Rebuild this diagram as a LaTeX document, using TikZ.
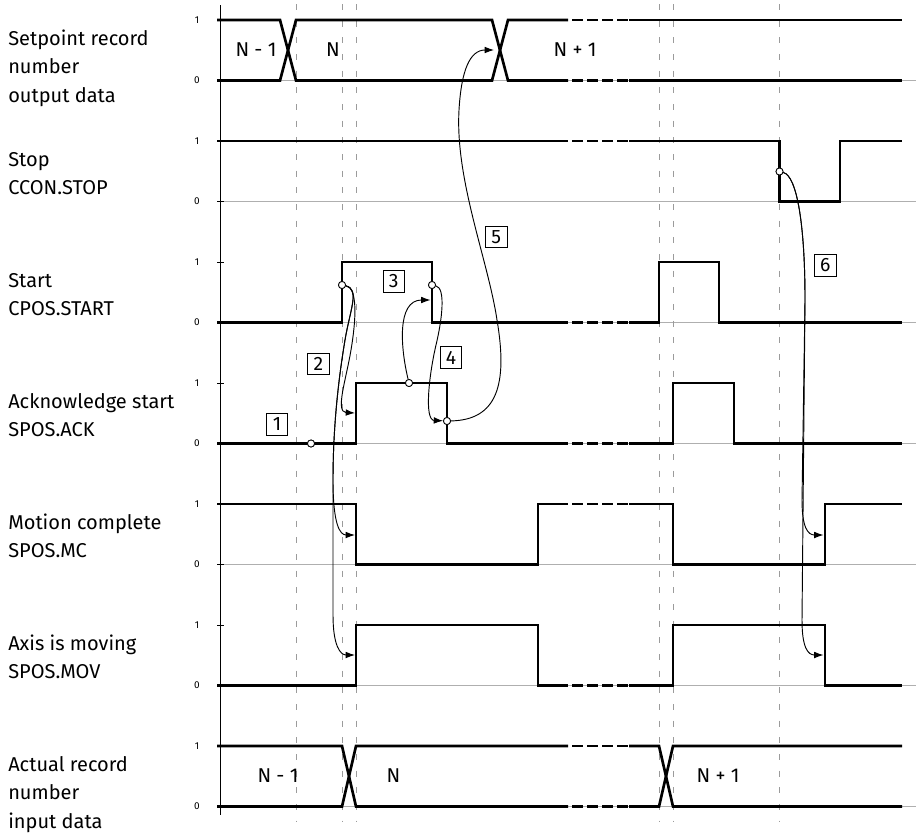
\documentclass[tikz,border=0pt]{standalone}
\usepackage{fontspec}
\setmainfont{Fira Sans}
\usetikzlibrary{arrows.meta}
\definecolor{gridgray}{RGB}{155,155,155}
\definecolor{zerogray}{RGB}{175,175,175}
\newcommand\sigbreak[1]{\draw[breakline] (568,#1) -- (629,#1);}
\begin{document}
\begin{tikzpicture}[x=0.75pt,y=-0.75pt,
  sigline/.style={line width=2pt,black},
  breakline/.style={line width=2pt,black,dash pattern=on 8.25pt off 3pt,dash phase=8.25pt},
  vgrid/.style={line width=0.75pt,gridgray,dash pattern=on 4.5pt off 8pt},
  zeroline/.style={line width=0.75pt,zerogray},
  tickmark/.style={line width=0.6pt,black},
  axisline/.style={line width=0.75pt,black},
  arrowline/.style={line width=0.7pt,-{Latex[length=7pt,width=5pt]}},
  marker/.style={circle,draw,fill=white,line width=0.6pt,inner sep=0pt,minimum size=5.3pt},
  numbox/.style={draw,line width=0.6pt,inner sep=0pt,minimum size=16pt,font=\fontsize{14.5}{16}\selectfont},
  rowlabel/.style={anchor=base west,inner sep=0pt,font=\fontsize{15}{18}\selectfont},
  ticklabel/.style={inner sep=0pt,font=\fontsize{7.5}{9}\selectfont},
  buslabel/.style={inner sep=0pt,font=\fontsize{15}{18}\selectfont}
]
\useasboundingbox (0,0) rectangle (919,835);
% zero lines, ticks, tick labels
\foreach \i in {0,...,6}{
  \pgfmathsetmacro{\hy}{20+121*\i}
  \pgfmathsetmacro{\ly}{80.5+121*\i}
  \draw[zeroline] (217,\ly) -- (916,\ly);
  \draw[tickmark] (217,\hy) -- (224,\hy);
  \draw[tickmark] (217,\ly) -- (224,\ly);
  \node[ticklabel] (one\i) at (197,\hy) {1};
  \node[ticklabel] (zero\i) at (197,\ly) {0};
}
% vertical dashed time marks
\foreach \x in {296,342,356,659,673,779.5}
  \draw[vgrid] (\x,4) -- (\x,822);
% axis
\draw[axisline] (220.5,5) -- (220.5,815);

% row 0: setpoint record number (bus)
\draw[sigline] (217,20) -- (280,20) -- (296,80.5) -- (492,80.5) -- (508,20) -- (568,20);
\draw[sigline] (217,80.5) -- (280,80.5) -- (296,20) -- (492,20) -- (508,80.5) -- (568,80.5);
\sigbreak{20}\sigbreak{80.5}
\draw[sigline] (629,20) -- (902,20);
\draw[sigline] (629,80.5) -- (902,80.5);
\node[buslabel] (s0a) at (256,50) {N - 1};
\node[buslabel] (s0b) at (333,50) {N};
\node[buslabel] (s0c) at (575,50) {N + 1};

% row 1: stop
\draw[sigline] (217,141) -- (568,141);
\sigbreak{141}
\draw[sigline] (629,141) -- (779.5,141) -- (779.5,201.5) -- (840,201.5) -- (840,141) -- (902,141);

% row 2: start
\draw[sigline] (217,322.5) -- (342,322.5) -- (342,262) -- (432,262) -- (432,322.5) -- (568,322.5);
\sigbreak{322.5}
\draw[sigline] (629,322.5) -- (659,322.5) -- (659,262) -- (719,262) -- (719,322.5) -- (902,322.5);

% row 3: acknowledge
\draw[sigline] (217,443.5) -- (356,443.5) -- (356,383) -- (447,383) -- (447,443.5) -- (568,443.5);
\sigbreak{443.5}
\draw[sigline] (629,443.5) -- (673,443.5) -- (673,383) -- (734,383) -- (734,443.5) -- (902,443.5);

% row 4: motion complete
\draw[sigline] (217,504) -- (356,504) -- (356,564.5) -- (538,564.5) -- (538,504) -- (568,504);
\sigbreak{504}
\draw[sigline] (629,504) -- (673,504) -- (673,564.5) -- (825,564.5) -- (825,504) -- (902,504);

% row 5: axis is moving
\draw[sigline] (217,685.5) -- (356,685.5) -- (356,625) -- (538,625) -- (538,685.5) -- (568,685.5);
\sigbreak{685.5}
\draw[sigline] (629,685.5) -- (673,685.5) -- (673,625) -- (825,625) -- (825,685.5) -- (902,685.5);

% row 6: actual record number (bus)
\draw[sigline] (217,746) -- (342,746) -- (356,806.5) -- (568,806.5);
\draw[sigline] (217,806.5) -- (342,806.5) -- (356,746) -- (568,746);
\sigbreak{746}\sigbreak{806.5}
\draw[sigline] (629,746) -- (659,746) -- (673,806.5) -- (902,806.5);
\draw[sigline] (629,806.5) -- (659,806.5) -- (673,746) -- (902,746);
\node[buslabel] (s6a) at (278,776) {N - 1};
\node[buslabel] (s6b) at (393.5,776) {N};
\node[buslabel] (s6c) at (718,776) {N + 1};

% row labels
\node[rowlabel] (l0a) at (8,45) {Setpoint record};
\node[rowlabel] (l0b) at (8,73.5) {number};
\node[rowlabel] (l0c) at (8,102) {output data};
\node[rowlabel] (l1a) at (8,166) {Stop};
\node[rowlabel] (l1b) at (8,194.5) {CCON.STOP};
\node[rowlabel] (l2a) at (8,287) {Start};
\node[rowlabel] (l2b) at (8,315.5) {CPOS.START};
\node[rowlabel] (l3a) at (8,408) {Acknowledge start};
\node[rowlabel] (l3b) at (8,436.5) {SPOS.ACK};
\node[rowlabel] (l4a) at (8,529) {Motion complete};
\node[rowlabel] (l4b) at (8,557.5) {SPOS.MC};
\node[rowlabel] (l5a) at (8,650) {Axis is moving};
\node[rowlabel] (l5b) at (8,678.5) {SPOS.MOV};
\node[rowlabel] (l6a) at (8,771) {Actual record};
\node[rowlabel] (l6b) at (8,799.5) {number};
\node[rowlabel] (l6c) at (8,828) {input data};

% markers
\node[marker] (c1) at (311,443.5) {};
\node[marker] (c2) at (342,285) {};
\node[marker] (c3) at (409,383) {};
\node[marker] (c4) at (432,285) {};
\node[marker] (c5) at (447,421) {};
\node[marker] (c6) at (779.5,171.5) {};

% arrow end points
\coordinate (t2a) at (355,413);
\coordinate (t2b) at (355,535);
\coordinate (t2c) at (355,655);
\coordinate (t3) at (430.5,300);
\coordinate (t5) at (494,50);
\coordinate (t6a) at (823.5,535);
\coordinate (t6b) at (823.5,655);

% connectors
\draw[arrowline] (c2) .. controls (358,288) and (356,320) .. (351,350) .. controls (346,380) and (335,412) .. (t2a);
\draw[arrowline] (c2) .. controls (360,289) and (350,310) .. (345,340) .. controls (340,370) and (333,420) .. (333,480) .. controls (333,525) and (340,535) .. (t2b);
\draw[arrowline] (c2) .. controls (360,289) and (350,310) .. (345,340) .. controls (340,370) and (333,420) .. (333,480) -- (333,615) .. controls (333,645) and (340,655) .. (t2c);
\draw[arrowline] (c3) .. controls (401,350) and (396,300) .. (t3);
\draw[arrowline] (c4) .. controls (446,288) and (442,320) .. (436,345) .. controls (429,375) and (424,420) .. (c5);
\draw[arrowline] (c5) .. controls (497,420) and (508,385) .. (497,320) .. controls (488,260) and (455,180) .. (459,110) .. controls (461.3,70) and (470,50) .. (t5);
\draw[arrowline] (c6) .. controls (797,176) and (805,225) .. (805,300) -- (802,500) .. controls (802,528) and (808,535) .. (t6a);
\draw[arrowline] (c6) .. controls (797,176) and (805,225) .. (805,300) -- (802,620) .. controls (802,648) and (808,655) .. (t6b);

% redraw markers on top
\node[marker] (c1b) at (c1) {};
\node[marker] (c2b) at (c2) {};
\node[marker] (c3b) at (c3) {};
\node[marker] (c4b) at (c4) {};
\node[marker] (c5b) at (c5) {};
\node[marker] (c6b) at (c6) {};

% step number boxes
\node[numbox] (b1) at (277,424.5) {1};
\node[numbox] (b2) at (318.5,364) {2};
\node[numbox] (b3) at (393.7,281.5) {3};
\node[numbox] (b4) at (451,357.5) {4};
\node[numbox] (b5) at (496.3,236.7) {5};
\node[numbox] (b6) at (825.3,265.5) {6};
\end{tikzpicture}
\end{document}
